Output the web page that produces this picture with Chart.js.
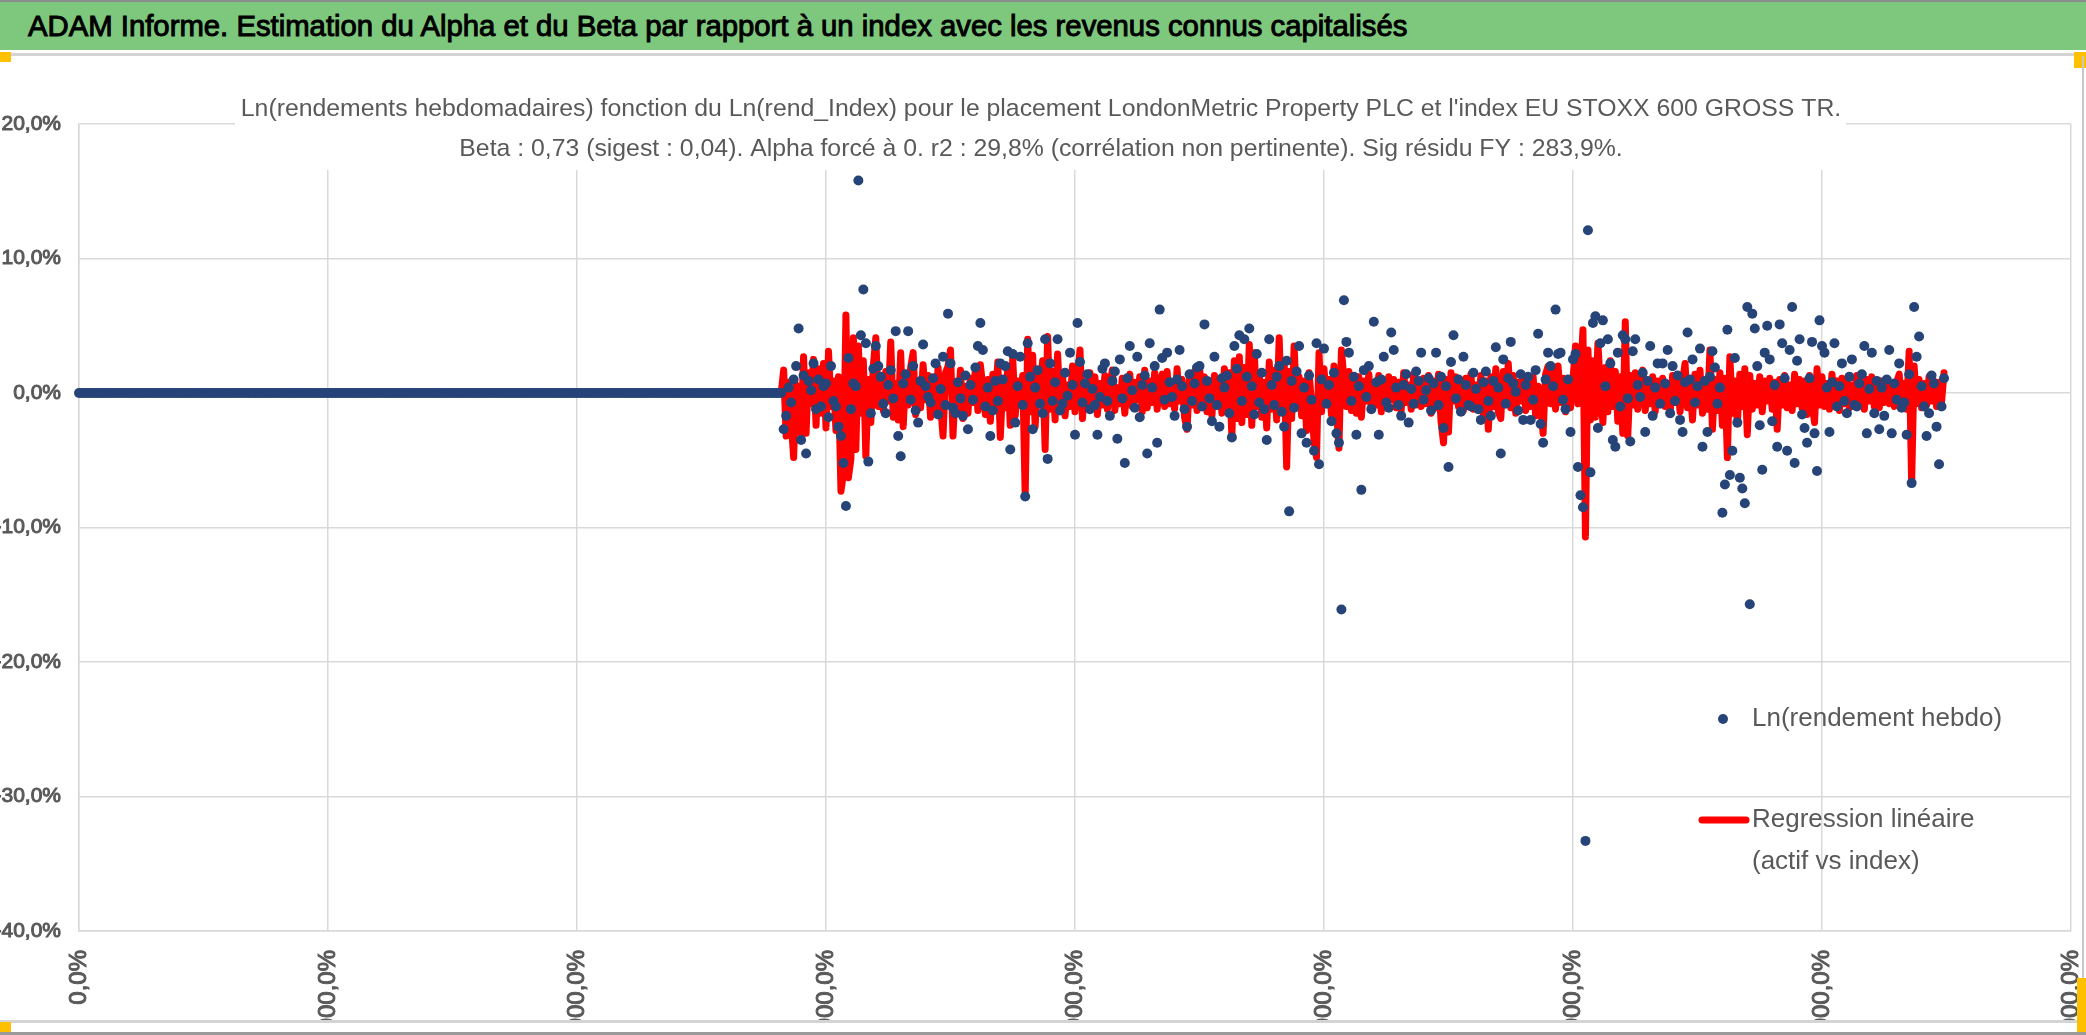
<!DOCTYPE html>
<html lang="fr">
<head>
<meta charset="utf-8">
<title>ADAM Informe - Alpha et Beta</title>
<script src="https://cdn.jsdelivr.net/npm/chart.js@4.4.1/dist/chart.umd.min.js"></script>
<style>
  html, body { margin: 0; padding: 0; background: #fff; }
  body { width: 2086px; height: 1035px; position: relative; overflow: hidden;
         font-family: 'Liberation Sans Narrow', 'Liberation Sans', sans-serif; }
  #banner { position: absolute; left: 0; top: 0; width: 2086px; height: 50px; background: #7ec87e;
            border-top: 2px solid #8c8c8c; box-sizing: border-box; }
  #banner span { position: absolute; left: 28px; top: 7px; font-size: 29.3px; font-weight: normal; color: #000;
                 -webkit-text-stroke: 1px #000; white-space: nowrap; }
  .hline { position: absolute; left: 0; width: 2086px; height: 3px; background: #d4d4d4; }
  .vline { position: absolute; width: 2px; background: #c8c8c8; }
  .mark { position: absolute; background: #ffc000; }
  #wrap { position: absolute; left: 0; top: 60px; width: 2086px; height: 960px; overflow: hidden; }
</style>
</head>
<body>
<div id="banner"><span>ADAM Informe. Estimation du Alpha et du Beta par rapport à un index avec les revenus connus capitalisés</span></div>
<div class="hline" style="top:53px"></div>
<div class="mark" style="left:0;top:52px;width:11px;height:10px"></div>
<div class="mark" style="left:2074px;top:52px;width:12px;height:16px"></div>
<div class="vline" style="left:2082px;top:56px;height:966px"></div>
<div id="wrap"><canvas id="chart"></canvas></div>
<div class="hline" style="top:1020px"></div>
<div class="hline" style="top:1032px;background:#9a9a9a"></div>
<div class="mark" style="left:0;top:1022px;width:11px;height:10px"></div>
<div class="mark" style="left:2077px;top:978px;width:9px;height:54px"></div>

<script>
// Chart data: weekly ln-returns (in %) of the asset and the fitted regression (beta * index)
// x value = week number (array index)

const titleLines = [
    "Ln(rendements hebdomadaires) fonction du Ln(rend_Index) pour le placement LondonMetric Property PLC et l'index EU STOXX 600 GROSS TR.",
    "Beta : 0,73 (sigest : 0,04). Alpha forcé à 0. r2 : 29,8% (corrélation non pertinente). Sig résidu FY : 283,9%."
];

const seriesLabels = ['Ln(rendement hebdo)', 'Regression linéaire (actif vs index)'];
const legendLines = [['Ln(rendement hebdo)'], ['Regression linéaire', '(actif vs index)']];

const xTicks = [0, 100, 200, 300, 400, 500, 600, 700, 800];
const xTickLabels = ['0,0%', '10000,0%', '20000,0%', '30000,0%', '40000,0%', '50000,0%', '60000,0%', '70000,0%', '80000,0%'];
const yTicks = [20, 10, 0, -10, -20, -30, -40];
const yTickLabels = ['20,0%', '10,0%', '0,0%', '-10,0%', '-20,0%', '-30,0%', '-40,0%'];

const assetReturns = [
    // weeks 0-282 : no history, plotted at 0
    0,0,0,0,0,0,0,0,0,0,0,0,0,0,0,0,0,0,0,0,
    0,0,0,0,0,0,0,0,0,0,0,0,0,0,0,0,0,0,0,0,
    0,0,0,0,0,0,0,0,0,0,0,0,0,0,0,0,0,0,0,0,
    0,0,0,0,0,0,0,0,0,0,0,0,0,0,0,0,0,0,0,0,
    0,0,0,0,0,0,0,0,0,0,0,0,0,0,0,0,0,0,0,0,
    0,0,0,0,0,0,0,0,0,0,0,0,0,0,0,0,0,0,0,0,
    0,0,0,0,0,0,0,0,0,0,0,0,0,0,0,0,0,0,0,0,
    0,0,0,0,0,0,0,0,0,0,0,0,0,0,0,0,0,0,0,0,
    0,0,0,0,0,0,0,0,0,0,0,0,0,0,0,0,0,0,0,0,
    0,0,0,0,0,0,0,0,0,0,0,0,0,0,0,0,0,0,0,0,
    0,0,0,0,0,0,0,0,0,0,0,0,0,0,0,0,0,0,0,0,
    0,0,0,0,0,0,0,0,0,0,0,0,0,0,0,0,0,0,0,0,
    0,0,0,0,0,0,0,0,0,0,0,0,0,0,0,0,0,0,0,0,
    0,0,0,0,0,0,0,0,0,0,0,0,0,0,0,0,0,0,0,0,
    0,0,0,
    // weeks 283-749
    -2.7,-1.7,0.4,-0.7,1.0,2.0,4.8,-3.5,1.3,-4.5,
    0.9,0.2,2.2,-1.2,1.0,-1.0,0.5,0.7,-1.8,2.0,
    -0.6,-1.0,-2.5,-3.2,-5.2,-8.4,2.6,-1.2,0.7,0.5,
    15.8,4.3,7.7,3.7,-5.1,-1.5,1.8,3.5,2.0,1.2,
    -0.8,-1.5,0.6,1.7,-0.4,4.6,-3.2,-4.7,0.7,1.4,
    4.6,-0.5,2.0,-1.3,-2.2,0.9,3.6,0.5,-0.3,-0.7,
    1.1,2.2,-1.6,0.3,2.7,-0.9,5.9,2.2,-1.1,-1.5,
    0.8,-0.4,-1.7,1.3,-2.7,0.6,-0.5,1.9,3.5,5.2,
    3.2,-1.0,0.4,-3.2,-1.3,0.9,-0.6,2.2,1.0,2.0,
    3.1,-4.2,2.9,-2.2,0.5,2.7,-0.9,-7.7,3.7,1.2,
    -2.7,0.4,1.7,-0.8,-1.5,4.0,-4.9,2.2,-0.6,0.8,
    4.0,-1.3,-0.8,1.5,-0.2,3.0,0.6,-3.1,5.2,2.3,
    -0.7,0.7,1.4,-1.2,0.3,-0.9,-3.1,-0.3,1.8,2.2,
    -0.6,-1.7,0.9,1.6,-3.4,2.5,-0.4,-5.2,1.1,3.5,
    0.2,-1.1,2.7,-1.8,0.6,1.3,-4.5,3.7,0.4,2.0,
    -3.7,6.2,2.6,-0.5,3.0,0.8,-0.3,-1.7,1.0,3.2,
    0.5,-1.2,-2.5,1.4,-0.6,0.7,1.9,2.0,-1.0,5.1,
    0.9,-0.4,-2.1,2.7,-0.9,-2.5,1.1,0.4,1.3,-1.5,
    -3.3,3.5,1.8,4.3,-0.6,4.0,1.2,4.8,0.5,-1.6,
    2.9,-0.7,1.5,-1.2,-3.5,4.0,0.6,-0.9,1.2,2.0,
    -1.4,-2.5,2.4,-8.8,0.9,-1.1,1.6,3.5,-3.0,0.4,
    -3.7,1.3,-0.5,-4.3,3.7,-5.3,1.0,3.3,-0.8,0.6,
    -2.1,1.5,-3.0,-3.7,-16.1,6.9,3.8,3.0,-0.6,1.2,
    -3.1,0.5,-7.2,1.7,-0.3,2.0,-1.2,5.3,0.8,-3.1,
    1.0,2.7,-0.7,-1.1,4.5,3.2,0.4,-0.9,-1.7,0.6,
    1.4,-2.2,0.3,-0.8,1.6,0.9,3.0,-0.5,0.2,1.1,
    -1.3,0.7,3.0,-0.9,1.2,-2.6,0.5,-5.5,2.3,4.3,
    -0.4,1.0,-1.4,2.7,0.6,-0.9,-1.0,1.5,0.3,-1.2,
    -2.0,0.8,1.6,-0.6,-1.7,0.9,3.4,0.4,-4.5,2.5,
    -0.8,1.1,3.8,0.7,0.1,-1.3,1.4,-2.0,0.6,1.2,
    -2.0,-0.5,1.7,4.4,-2.3,-3.7,1.0,3.0,2.0,0.5,
    6.2,2.9,3.0,-0.5,-1.2,1.0,-2.9,2.5,2.9,-5.5,
    -7.6,-8.5,-33.3,12.1,-5.9,5.2,5.7,-2.6,3.7,5.4,
    0.5,4.0,2.2,-3.5,-4.0,3.0,-1.0,4.3,4.0,-0.4,
    -3.6,3.1,4.0,0.6,-0.3,1.5,-2.9,0.9,3.5,-1.7,
    0.4,2.2,-0.8,2.2,0.7,3.2,-1.5,2.0,-0.6,1.3,
    -2.0,-2.9,0.8,4.5,1.0,2.5,-0.7,0.5,3.3,-4.0,
    0.9,-2.9,1.2,3.1,1.9,-0.8,0.4,-8.9,-6.8,4.7,
    -6.1,-4.3,2.6,-2.2,-6.3,-7.1,-8.2,6.4,-15.7,5.9,
    4.8,2.0,-2.4,-5.7,3.0,5.0,2.5,-2.1,0.6,-4.0,
    5.1,3.7,1.1,-4.3,3.2,6.4,-5.2,2.4,4.0,-1.6,
    -2.6,-3.7,1.1,3.8,-3.0,-5.8,5.4,3.5,3.0,0.4,
    -2.9,0.8,3.7,-1.0,0.5,2.2,-0.6,-1.5,1.2,2.5,
    -0.9,-1.0,0.7,1.4,3.5,-3.0,0.3,3.0,-1.5,0.9,
    -2.7,0.4,-1.7,1.0,3.2,-3.0,0.7,-0.5,2.2,-1.1,
    -0.7,-3.1,1.4,-6.7,6.4,2.7,4.2,0.5,-1.0,-3.2,
    -1.5,1.3,0.7,-2.5,-5.3,-1.0,1.1
];

const fittedReturns = [
    // weeks 0-282
    0,0,0,0,0,0,0,0,0,0,0,0,0,0,0,0,0,0,0,0,
    0,0,0,0,0,0,0,0,0,0,0,0,0,0,0,0,0,0,0,0,
    0,0,0,0,0,0,0,0,0,0,0,0,0,0,0,0,0,0,0,0,
    0,0,0,0,0,0,0,0,0,0,0,0,0,0,0,0,0,0,0,0,
    0,0,0,0,0,0,0,0,0,0,0,0,0,0,0,0,0,0,0,0,
    0,0,0,0,0,0,0,0,0,0,0,0,0,0,0,0,0,0,0,0,
    0,0,0,0,0,0,0,0,0,0,0,0,0,0,0,0,0,0,0,0,
    0,0,0,0,0,0,0,0,0,0,0,0,0,0,0,0,0,0,0,0,
    0,0,0,0,0,0,0,0,0,0,0,0,0,0,0,0,0,0,0,0,
    0,0,0,0,0,0,0,0,0,0,0,0,0,0,0,0,0,0,0,0,
    0,0,0,0,0,0,0,0,0,0,0,0,0,0,0,0,0,0,0,0,
    0,0,0,0,0,0,0,0,0,0,0,0,0,0,0,0,0,0,0,0,
    0,0,0,0,0,0,0,0,0,0,0,0,0,0,0,0,0,0,0,0,
    0,0,0,0,0,0,0,0,0,0,0,0,0,0,0,0,0,0,0,0,
    0,0,0,
    // weeks 283-749
    1.7,-3.2,0.8,-2.0,-4.8,0.6,-1.2,-3.0,2.7,-3.0,
    1.5,-0.8,2.5,-2.4,1.8,-1.5,2.2,-2.6,3.1,-1.0,
    0.9,-2.8,1.2,-7.3,-6.0,5.8,-6.3,-4.9,4.1,-4.2,
    3.5,-1.5,2.4,-4.7,1.0,-2.2,2.0,4.1,-1.0,0.9,
    -1.3,1.6,-0.6,3.8,-1.8,0.7,-2.0,3.0,-2.5,1.2,
    -0.9,1.9,3.0,-1.6,0.4,-1.1,2.1,-0.5,1.3,-1.8,
    0.6,-1.4,1.9,-0.8,-3.2,1.5,2.0,3.2,-3.2,0.8,
    -1.2,1.7,-1.9,0.5,-1.5,1.1,-0.7,1.8,-1.3,2.1,
    0.4,-1.6,1.0,-2.1,1.4,-0.9,2.3,-3.3,0.7,-1.1,
    1.9,-2.4,2.6,-1.7,0.9,-0.6,1.3,-7.7,4.0,-1.4,
    2.8,-2.5,1.1,0.3,2.4,-4.2,4.2,-1.2,1.6,-2.0,
    2.9,-0.8,1.4,-1.7,0.6,-1.0,2.0,-1.4,0.9,3.2,
    -1.9,0.8,-1.1,1.5,-0.4,1.2,-1.6,0.7,-0.9,1.3,
    -1.2,0.5,1.7,-1.3,0.4,-0.8,1.1,-1.5,0.6,1.4,
    -1.0,0.8,-0.5,1.2,-1.4,1.7,-1.1,0.9,-0.7,1.5,
    -1.2,0.6,1.4,-1.0,1.6,-0.8,0.5,-1.2,1.8,-0.6,
    1.0,-1.8,-2.7,1.1,-0.9,1.6,-1.3,1.9,-0.5,1.2,
    -1.4,0.7,-1.7,1.3,-0.6,1.0,-1.5,1.8,-1.1,1.5,
    -3.2,2.4,-1.9,2.7,-2.2,1.9,-1.6,3.6,-2.4,3.0,
    -1.0,1.4,-1.8,0.8,-2.6,2.3,-1.2,1.7,-2.0,4.1,
    -1.4,2.4,-5.5,1.6,-1.9,3.5,-0.9,1.2,-1.7,0.9,
    -2.8,1.5,-0.8,-3.6,-4.8,3.0,-1.4,1.8,-0.7,1.0,
    -1.6,2.0,-1.2,-4.1,3.2,1.1,-1.0,1.6,-1.3,0.8,
    -1.5,1.2,-1.8,0.9,-0.6,1.4,-1.1,0.7,-0.9,1.3,
    -1.4,0.6,-0.8,1.2,-0.5,1.0,-1.1,0.8,-1.3,1.5,
    -0.7,0.6,-1.2,1.4,-0.9,0.5,-1.0,1.1,-0.8,1.3,
    -1.5,0.9,-1.1,1.4,-2.1,-3.7,1.0,-2.9,1.5,-0.6,
    1.2,-1.0,0.7,-1.3,1.1,-0.5,1.4,-1.2,0.6,-0.9,
    1.3,-1.6,0.9,-2.7,1.2,-1.0,1.8,-1.4,-1.9,1.6,
    -0.7,2.2,-1.1,1.3,-1.5,0.8,-0.6,1.0,-1.3,0.7,
    -1.0,1.2,-1.7,0.5,-0.9,-3.0,1.4,2.0,-0.8,1.6,
    -1.2,2.0,-0.7,1.1,-1.4,0.6,-1.1,1.0,3.5,-0.8,
    1.2,4.7,-10.7,3.2,-2.0,2.4,-1.8,3.7,0.5,-2.2,
    1.9,-1.4,2.4,-1.0,1.6,-2.1,1.2,-3.0,5.3,-3.2,
    1.3,-0.9,1.5,-1.2,0.8,1.7,-1.3,0.6,-0.8,1.2,
    -1.4,0.9,-0.5,1.1,-1.0,0.7,-1.6,1.3,-0.7,1.0,
    -1.4,0.8,2.2,-1.1,0.6,-2.0,1.4,-0.9,1.7,-1.5,
    0.8,-1.2,3.2,-2.7,1.0,-1.3,1.5,-2.4,1.1,-4.8,
    2.7,-1.5,0.9,-2.3,1.4,-1.0,1.8,-3.1,1.3,-1.2,
    0.7,-0.9,1.2,-1.4,0.9,-0.6,1.1,-1.2,0.8,-2.7,
    1.0,-0.9,1.3,-1.1,0.6,-1.3,1.4,-0.8,1.0,-1.1,
    0.9,-1.6,1.3,-0.7,-2.2,1.8,-0.9,1.2,-1.0,0.7,
    -1.2,1.4,-0.6,0.9,-1.3,1.1,-0.8,1.0,-1.1,0.6,
    -0.7,1.3,-0.9,0.8,-1.2,1.0,-0.6,1.2,-1.0,0.7,
    -1.1,0.9,-0.7,1.0,-0.8,0.6,-1.0,0.8,1.4,-0.9,
    0.7,-1.2,3.1,-6.7,2.0,-0.8,1.0,-1.1,0.7,-0.9,
    1.2,-0.6,0.9,-1.0,0.8,-0.7,1.5
];

const FONT = "'Liberation Sans Narrow', 'Liberation Sans', sans-serif";
const TEXT_GREY = '#595959';
const BLUE = '#264478';
const RED = '#ff0000';

Chart.defaults.font.family = FONT;
Chart.defaults.color = TEXT_GREY;

// title box over the top of the plot + legend inside the plot, drawn like Excel does
const overlayPlugin = {
    id: 'overlay',
    beforeDatasetsDraw(chart) {
        const ctx = chart.ctx;
        ctx.save();
        ctx.fillStyle = '#ffffff';
        ctx.fillRect(235, 0, 1611, 110);
        ctx.fillStyle = TEXT_GREY;
        ctx.font = '24.8px ' + FONT;
        ctx.textAlign = 'center';
        ctx.textBaseline = 'middle';
        ctx.fillText(titleLines[0], 1041, 49);
        ctx.fillText(titleLines[1], 1041, 89);
        ctx.restore();
    },
    afterDraw(chart) {
        const ctx = chart.ctx;
        ctx.save();
        ctx.font = '26px ' + FONT;
        ctx.textAlign = 'left';
        ctx.textBaseline = 'middle';
        // marker for the scatter series
        ctx.beginPath();
        ctx.fillStyle = BLUE;
        ctx.arc(1723, 659, 5, 0, Math.PI * 2);
        ctx.fill();
        ctx.fillStyle = TEXT_GREY;
        ctx.fillText(legendLines[0][0], 1752, 659);
        // line sample for the regression
        ctx.strokeStyle = RED;
        ctx.lineWidth = 7;
        ctx.lineCap = 'round';
        ctx.beginPath();
        ctx.moveTo(1702, 760);
        ctx.lineTo(1746, 760);
        ctx.stroke();
        ctx.fillText(legendLines[1][0], 1752, 760);
        ctx.fillText(legendLines[1][1], 1752, 802);
        ctx.restore();
    }
};

const ctx = document.getElementById('chart').getContext('2d');
const chart = new Chart(ctx, {
    type: 'scatter',
    data: {
        datasets: [
            {
                label: seriesLabels[0],
                data: assetReturns.map((v, i) => ({ x: i, y: v })),
                backgroundColor: BLUE,
                borderWidth: 0,
                pointRadius: 5,
                pointHoverRadius: 5,
                clip: false,
                order: 0
            },
            {
                label: seriesLabels[1],
                data: fittedReturns.map((v, i) => ({ x: i, y: v })),
                showLine: true,
                borderColor: RED,
                borderWidth: 7,
                borderJoinStyle: 'round',
                borderCapStyle: 'round',
                pointRadius: 0,
                tension: 0,
                fill: false,
                order: 1
            }
        ]
    },
    options: {
        responsive: true,
        maintainAspectRatio: false,
        devicePixelRatio: 1,
        animation: false,
        events: [],
        layout: { padding: { top: 64, right: 15, left: 0, bottom: 0 } },
        plugins: {
            legend: { display: false },
            title: { display: false },
            tooltip: { enabled: false }
        },
        scales: {
            x: {
                type: 'linear',
                min: 0,
                max: 800,
                afterFit: (scale) => {
                    scale.height = 89;
                    // rotated labels: don't let Chart.js reserve extra room on the sides
                    scale.paddingLeft = 0;
                    scale.paddingRight = 0;
                },
                grid: { color: '#d9d9d9', lineWidth: 1.5, drawTicks: false },
                border: { color: '#d9d9d9', width: 1.5 },
                ticks: {
                    stepSize: 100,
                    autoSkip: false,
                    minRotation: 90,
                    maxRotation: 90,
                    padding: 19,
                    color: TEXT_GREY,
                    textStrokeColor: TEXT_GREY,
                    textStrokeWidth: 1,
                    font: { size: 24 },
                    callback: (v) => {
                        const k = xTicks.indexOf(v);
                        return k >= 0 ? xTickLabels[k] : '';
                    }
                }
            },
            y: {
                min: -40,
                max: 20,
                afterFit: (scale) => { scale.width = 79; },
                grid: { color: '#d9d9d9', lineWidth: 1.5, drawTicks: false },
                border: { color: '#d9d9d9', width: 1.5 },
                ticks: {
                    stepSize: 10,
                    padding: 18,
                    color: TEXT_GREY,
                    textStrokeColor: TEXT_GREY,
                    textStrokeWidth: 1,
                    font: { size: 21 },
                    callback: (v) => {
                        const k = yTicks.indexOf(v);
                        return k >= 0 ? yTickLabels[k] : '';
                    }
                }
            }
        }
    },
    plugins: [overlayPlugin]
});
</script>
</body>
</html>
